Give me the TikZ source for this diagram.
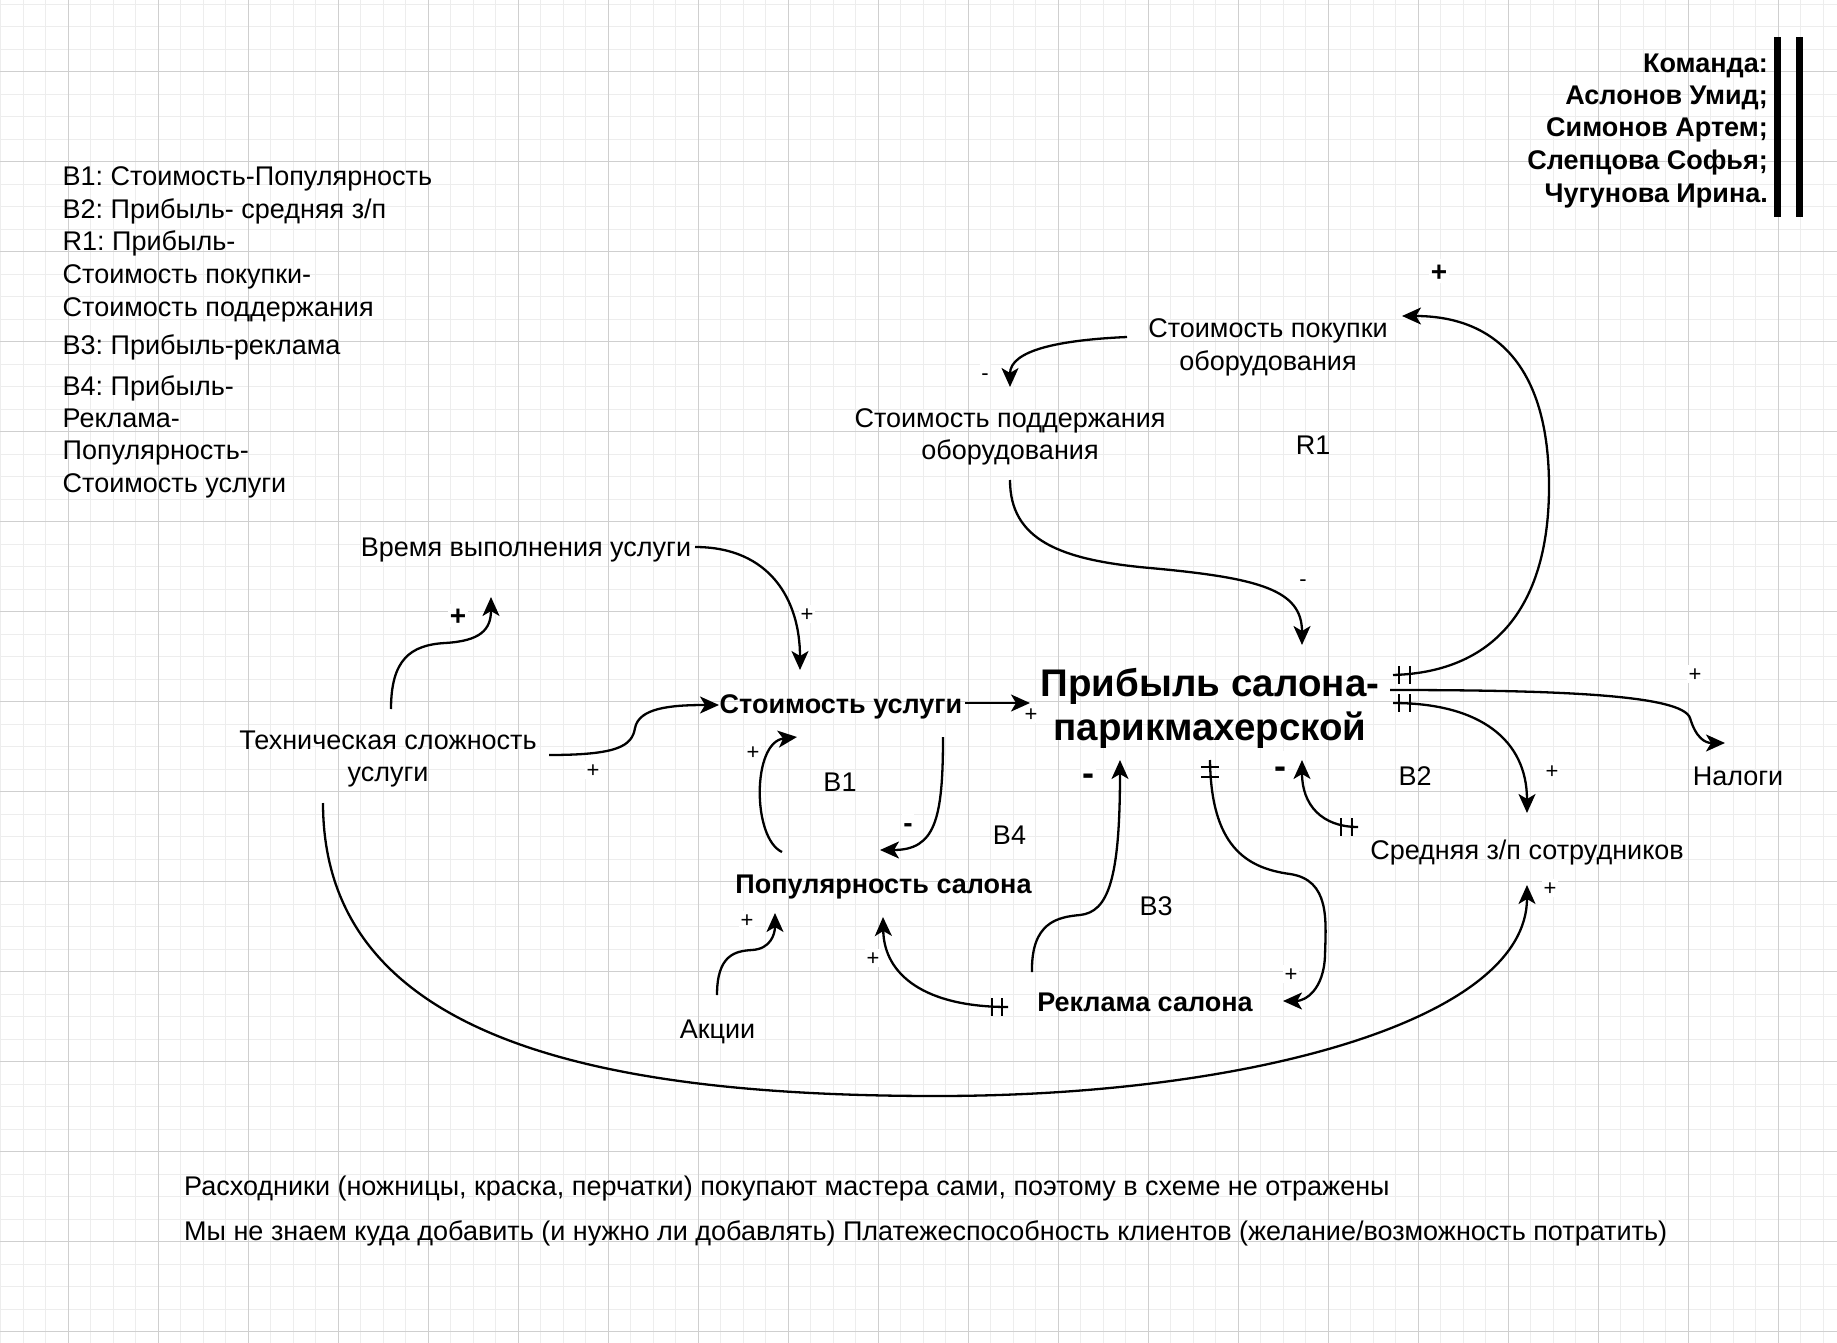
\documentclass[tikz,border=0pt]{standalone}
\usepackage{fontspec}
\setmainfont{Liberation Sans}
\usetikzlibrary{arrows.meta}
\frenchspacing
\newcommand\ftw{\fontsize{27}{32.4}\selectfont}
\newcommand\fbg{\fontsize{38.5}{44.5}\selectfont\bfseries}
\newcommand\fsm{\fontsize{22}{26}\selectfont}
\newcommand\fmd{\fontsize{28}{34}\selectfont\bfseries}
\newcommand\fmi{\fontsize{36}{44}\selectfont\bfseries}
\begin{document}
\begin{tikzpicture}[x=1pt,y=-1pt,
  gridmin/.style={line width=1.2pt, black!7},
  gridmaj/.style={line width=1.2pt, black!19},
  tx/.style={inner sep=0pt, font=\ftw, text height=19.4pt, text depth=0pt},
  txb/.style={tx, font=\ftw\bfseries},
  ml/.style={inner sep=0pt, font=\ftw, align=center},
  pm/.style={inner sep=1.5pt, font=\fsm, text height=15.8pt, text depth=0pt, fill=white},
  pmb/.style={inner sep=1.5pt, font=\fmd, text height=20pt, text depth=0pt, fill=white},
  mib/.style={inner sep=1.5pt, font=\fmi, text height=26pt, text depth=0pt, fill=white},
  lnk/.style={line width=2.3pt, -{Stealth[length=19pt,width=17pt,inset=5pt]}},
  tick/.style={line width=2.3pt},
]
\useasboundingbox (0,0) rectangle (1837,1343);
\fill[white] (0,0) rectangle (1837,1343);
\begin{scope}
\clip (0,0) rectangle (1837,1343);
\foreach \i in {0,...,81} {\draw[gridmin] ({0.8+22.5*\i},0) -- ({0.8+22.5*\i},1343);}
\foreach \i in {0,...,59} {\draw[gridmin] (0,{4.2+22.5*\i}) -- (1837,{4.2+22.5*\i});}
\foreach \i in {0,...,19} {\draw[gridmaj] ({68.3+90*\i},0) -- ({68.3+90*\i},1343);}
\foreach \i in {0,...,14} {\draw[gridmaj] (0,{71.7+90*\i}) -- (1837,{71.7+90*\i});}
\end{scope}

% legend
\node[tx, anchor=west] (lg1) at (62.5,175.7) {B1: Стоимость-Популярность};
\node[tx, anchor=west] (lg2) at (62.5,208.5) {B2: Прибыль- средняя з/п};
\node[tx, anchor=west] (lg3) at (62.5,241.3) {R1: Прибыль-};
\node[tx, anchor=west] (lg4) at (62.5,274.2) {Стоимость покупки-};
\node[tx, anchor=west] (lg5) at (62.5,307) {Стоимость поддержания};
\node[tx, anchor=west] (lg6) at (62.5,344.4) {B3: Прибыль-реклама};
\node[tx, anchor=west] (lg7) at (62.5,385.4) {B4: Прибыль-};
\node[tx, anchor=west] (lg8) at (62.5,417.7) {Реклама-};
\node[tx, anchor=west] (lg9) at (62.5,450) {Популярность-};
\node[tx, anchor=west] (lg10) at (62.5,482.7) {Стоимость услуги};

% team
\node[txb, anchor=east] (tm1) at (1768,62.5) {Команда:};
\node[txb, anchor=east] (tm2) at (1768,95) {Аслонов Умид;};
\node[txb, anchor=east] (tm3) at (1768,127) {Симонов Артем;};
\node[txb, anchor=east] (tm4) at (1768,160) {Слепцова Софья;};
\node[txb, anchor=east] (tm5) at (1768,192.5) {Чугунова Ирина.};
\fill[black] (1774,37) rectangle (1780.5,217);
\fill[black] (1796,37) rectangle (1802.5,217);

% variables
\node[ml] (pk) at (1268,347.2) {Стоимость покупки\\оборудования};
\node[ml] (pd) at (1010,436.7) {Стоимость поддержания\\оборудования};
\node[inner sep=0pt, font=\fbg, align=center] (pr) at (1210,708.3) {Прибыль салона-\\парикмахерской};
\node[tx] (vr) at (526,547) {Время выполнения услуги};
\node[ml] (ts) at (388,759.2) {Техническая сложность\\услуги};
\node[txb] (su) at (841,704) {Стоимость услуги};
\node[txb] (pop) at (883.5,883.4) {Популярность салона};
\node[tx] (ak) at (717.5,1029) {Акции};
\node[txb] (rk) at (1145,1002) {Реклама салона};
\node[tx] (sz) at (1527,850) {Средняя з/п сотрудников};
\node[tx] (nal) at (1738,776) {Налоги};

% loop labels
\node[tx] (lb1) at (840,782) {B1};
\node[tx] (lb2) at (1415,776) {B2};
\node[tx] (lb3) at (1156,906) {B3};
\node[tx] (lb4) at (1009.5,834.5) {B4};
\node[tx] (lr1) at (1313,445) {R1};

% notes
\node[tx, anchor=west] (n1) at (184,1186) {Расходники (ножницы, краска, перчатки) покупают мастера сами, поэтому в схеме не отражены};
\node[tx, anchor=west] (n2) at (184,1230.7) {Мы не знаем куда добавить (и нужно ли добавлять) Платежеспособность клиентов (желание/возможность потратить)};

% polarity labels
\node[pm] (p1) at (1031,713.5) {+};
\node[pm] (p2) at (985,373) {-};
\node[pm] (p3) at (1303,579) {-};
\node[pmb] (p4) at (1439,271) {+};
\node[pm] (p5) at (1695,674) {+};
\node[pm] (p6) at (1552,771) {+};
\node[pm] (p7) at (1550,888) {+};
\node[mib] (p8) at (1280,765) {-};
\node[mib] (p9) at (1088,772) {-};
\node[pm] (p10) at (1291,974) {+};
\node[pm] (p11) at (873,958) {+};
\node[pm] (p12) at (747,920) {+};
\node[pm] (p13) at (753,752) {+};
\node[pmb] (p14) at (908,822.5) {-};
\node[pm] (p15) at (593,770) {+};
\node[pmb] (p16) at (458,615) {+};
\node[pm] (p17) at (807,614) {+};

% connector end points
\coordinate (pk-w) at (1127,337);
\coordinate (pd-n) at (1010,387);
\coordinate (pd-s) at (1010,480);
\coordinate (pr-n) at (1302,645);
\coordinate (pr-e1) at (1393,675);
\coordinate (pk-e) at (1402,316);
\coordinate (pr-e2) at (1390,690);
\coordinate (nal-w) at (1725,743);
\coordinate (pr-e3) at (1393,703);
\coordinate (sz-n) at (1527,813);
\coordinate (sz-w) at (1358,827);
\coordinate (pr-s3) at (1302,760);
\coordinate (pr-s2) at (1210,760);
\coordinate (rk-e) at (1283,1001);
\coordinate (rk-n) at (1032,972);
\coordinate (pr-s1) at (1120,760);
\coordinate (rk-w) at (1008,1007);
\coordinate (pop-s2) at (883,917);
\coordinate (ak-n) at (717,995);
\coordinate (pop-s1) at (775,913);
\coordinate (pop-n1) at (782,852);
\coordinate (su-s1) at (797,737);
\coordinate (su-s2) at (943,737);
\coordinate (pop-n2) at (880,850);
\coordinate (su-e) at (965,703);
\coordinate (pr-w) at (1030,703);
\coordinate (ts-e) at (549,755);
\coordinate (su-w) at (719,705);
\coordinate (ts-n) at (391,709);
\coordinate (vr-s) at (491,597);
\coordinate (vr-e) at (695,547);
\coordinate (su-n) at (800,670);
\coordinate (ts-s) at (323,803);
\coordinate (sz-s) at (1527,885);

% connectors
\draw[lnk] (pk-w) .. controls (1060,340) and (1010,350) .. (pd-n);
\draw[lnk] (pd-s) .. controls (1010,540) and (1060,560) .. (1150,568) .. controls (1260,578) and (1302,590) .. (pr-n);
\draw[lnk] (pr-e1) .. controls (1500,672) and (1548,600) .. (1549,490) .. controls (1550,360) and (1490,316) .. (pk-e);
\draw[tick] (1399,666) -- (1399,684) (1410,666) -- (1410,684);
\draw[lnk] (pr-e2) .. controls (1560,690) and (1682,695) .. (1690,718) .. controls (1696,738) and (1705,743) .. (nal-w);
\draw[lnk] (pr-e3) .. controls (1480,703) and (1527,740) .. (sz-n);
\draw[tick] (1399,694) -- (1399,712) (1410,694) -- (1410,712);
\draw[lnk] (sz-w) .. controls (1322,827) and (1302,805) .. (pr-s3);
\draw[tick] (1352,818) -- (1352,836) (1341,818) -- (1341,836);
\draw[lnk] (pr-s2) .. controls (1211,845) and (1245,868) .. (1290,874) .. controls (1330,880) and (1326,920) .. (1325,955) .. controls (1324,990) and (1305,1001) .. (rk-e);
\draw[tick] (1201,767) -- (1219,767) (1201,777) -- (1219,777);
\draw[lnk] (rk-n) .. controls (1031,922) and (1058,917) .. (1080,915) .. controls (1108,912) and (1120,880) .. (pr-s1);
\draw[lnk] (rk-w) .. controls (925,1007) and (884,975) .. (pop-s2);
\draw[tick] (1002,998) -- (1002,1016) (992,998) -- (992,1016);
\draw[lnk] (ak-n) .. controls (717,955) and (735,951) .. (752,950) .. controls (770,949) and (775,935) .. (pop-s1);
\draw[lnk] (pop-n1) .. controls (752,838) and (752,742) .. (su-s1);
\draw[lnk] (su-s2) .. controls (943,820) and (935,850) .. (pop-n2);
\draw[lnk] (su-e) -- (pr-w);
\draw[lnk] (ts-e) .. controls (618,755) and (632,746) .. (635,728) .. controls (639,708) and (670,705) .. (su-w);
\draw[lnk] (ts-n) .. controls (391,660) and (410,645) .. (445,643) .. controls (480,641) and (491,630) .. (vr-s);
\draw[lnk] (vr-e) .. controls (770,547) and (800,600) .. (su-n);
\draw[lnk] (ts-s) .. controls (323,1040) and (600,1096) .. (937,1096) .. controls (1250,1096) and (1527,1020) .. (sz-s);
\end{tikzpicture}
\end{document}
